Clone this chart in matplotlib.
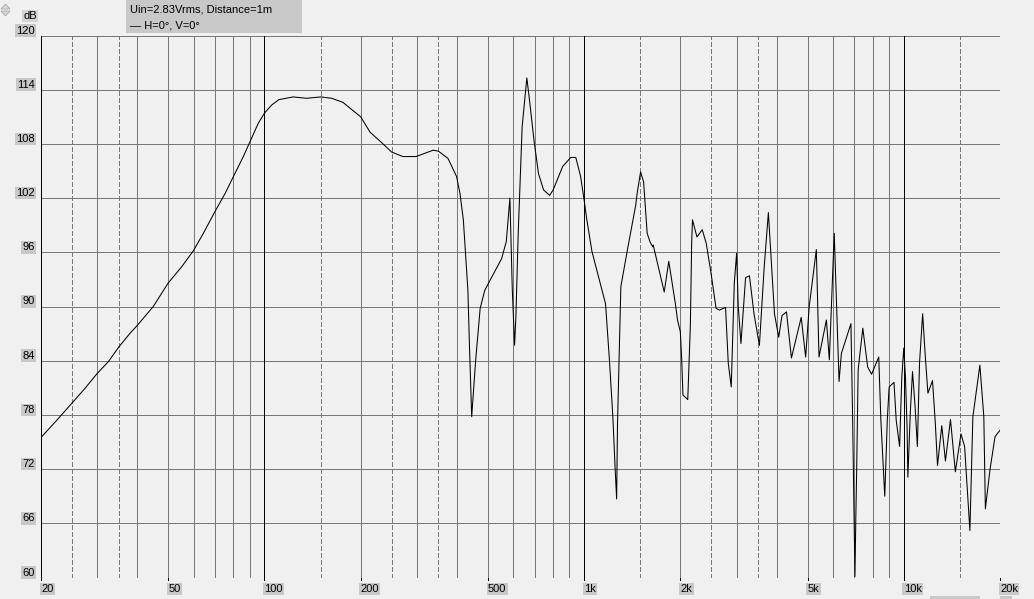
import matplotlib
matplotlib.use("Agg")
import matplotlib.pyplot as plt
import matplotlib.transforms as mtransforms
from matplotlib.patches import Rectangle, Polygon

plt.rcParams['font.family'] = ['Liberation Sans', 'DejaVu Sans']
plt.rcParams['lines.scale_dashes'] = False

# ---- data ----
freq_hz = [20, 22.4, 25, 27.4, 30, 32.5, 35, 37.9, 40, 44.9, 50, 55.1, 60, 64.4, 70, 75.3,
           80, 85.9, 90, 95.7, 100, 105.3, 111, 123, 135.5, 150, 162.3, 176, 200, 214, 230,
           250, 271, 298, 337, 350, 375, 399, 409, 419, 427, 433, 438, 445, 458, 473, 489,
           552, 571, 586, 596, 606, 612, 622, 630, 640, 662, 674, 697, 720, 747, 780, 800,
           857, 908, 942, 975, 1000, 1020, 1058, 1167, 1200, 1230, 1250, 1264, 1272, 1285,
           1303, 1365, 1450, 1465, 1502, 1535, 1575, 1610, 1640, 1645, 1781, 1840, 1930,
           1960, 2000, 2020, 2038, 2110, 2150, 2170, 2183, 2254, 2342, 2410, 2495, 2587,
           2650, 2770, 2825, 2886, 2950, 3000, 3035, 3095, 3200, 3290, 3400, 3535, 3660,
           3771, 3860, 3940, 4063, 4160, 4296, 4452, 4777, 4933, 5060, 5327, 5430, 5727,
           5850, 6060, 6274, 6380, 6835, 6920, 7035, 7080, 7120, 7200, 7445, 7710, 7930,
           8350, 8480, 8720, 8880, 9000, 9320, 9470, 9704, 9860, 10000, 10120, 10240, 10300,
           10480, 10650, 10850, 11030, 11200, 11456, 11660, 11900, 12300, 12550, 12750, 13150,
           13500, 14000, 14500, 15100, 15500, 16100, 16450, 17300, 17800, 18000, 18600,
           19300, 20000]
spl_db = [75.5, 77.4, 79.3, 80.9, 82.6, 83.9, 85.5, 87.0, 87.9, 90.0, 92.6, 94.4, 96.2, 98.1,
          100.5, 102.5, 104.4, 106.6, 108.2, 110.3, 111.4, 112.3, 112.9, 113.2, 113.05, 113.2,
          113.05, 112.6, 111.0, 109.3, 108.3,
          107.1, 106.6, 106.6, 107.3, 107.2, 106.4, 104.4,
          102.5, 99.6, 95.1, 91.8, 85.5, 77.8, 84.1, 89.8, 91.8, 95.3, 97.2, 102.0, 92.0,
          85.7, 89.0, 98.0, 103.3, 109.9, 115.3, 113.0, 108.4, 104.7, 102.9, 102.3, 102.9,
          105.5, 106.5, 106.5, 104.4, 101.8, 99.6, 96.1, 90.3, 84.1, 77.8, 72.2, 68.7, 77.0,
          83.3, 92.2, 96.2, 101.2, 102.5, 104.9, 103.8, 98.1, 97.1, 96.6, 96.8, 91.6, 95.0,
          90.3, 88.5, 87.2, 84.1, 80.2, 79.7, 88.0, 97.0, 99.6, 97.7, 98.5, 97.0, 93.7, 89.8,
          89.6, 89.9, 83.7, 81.1, 92.6, 95.9, 90.0, 85.9, 93.2, 93.4, 89.2, 85.7, 94.4, 100.4,
          94.4, 89.2, 86.6, 89.0, 89.4, 84.3, 88.8, 84.4, 90.0, 96.3, 84.4, 88.5, 84.1, 98.1,
          81.7, 84.8, 88.1, 77.4, 60.1, 66.7, 71.5, 83.0, 87.6, 83.3, 82.5, 84.4, 77.4, 69.0,
          77.4, 81.1, 81.6, 77.4, 74.5, 82.2, 85.4, 82.2, 76.7, 71.1, 78.2, 82.8, 78.9, 74.5,
          83.7, 89.2, 84.8, 80.4, 81.8, 77.1, 72.4, 76.8, 72.9, 77.5, 71.7, 75.9, 74.5, 65.2,
          77.8, 83.5, 77.8, 67.6, 71.9, 75.6, 76.3]

y_ticks = [60, 66, 72, 78, 84, 90, 96, 102, 108, 114, 120]
x_ticks = [20, 50, 100, 200, 500, 1000, 2000, 5000, 10000, 20000]
x_tick_labels = ['20', '50', '100', '200', '500', '1k', '2k', '5k', '10k', '20k']
solid_grid = [30, 40, 50, 60, 70, 80, 90, 200, 300, 400, 500, 600, 700, 800, 900,
              2000, 3000, 4000, 5000, 6000, 7000, 8000, 9000]
dashed_grid = [25, 35, 150, 250, 350, 1500, 2500, 3500, 15000]
major_grid = [100, 1000, 10000]
legend_title = 'Uin=2.83Vrms, Distance=1m'
legend_entry = 'H=0°, V=0°'

BG = '#f0f0f0'
GRID = '#787878'
BOX = '#c8c8c8'
FS = 8

W, H = 1034, 599
fig = plt.figure(figsize=(W / 100, H / 100), dpi=100, facecolor=BG)
L, R, T, B = 41, 1000, 35.5, 577.5
ax = fig.add_axes([L / W, 1 - B / H, (R - L) / W, (B - T) / H])
ax.set_facecolor(BG)
ax.set_xscale('log')
ax.set_xlim(20, 20000)
ax.set_ylim(60, 120)
for s in ax.spines.values():
    s.set_visible(False)
ax.set_xticks([])
ax.set_yticks([])
ax.minorticks_off()

lw = 1.0 * 72 / 100
for y in y_ticks:
    ax.axhline(y, color=GRID, lw=lw, zorder=1, antialiased=False)
for x in solid_grid:
    ax.axvline(x, color=GRID, lw=lw, zorder=1, antialiased=False)
for x in dashed_grid:
    ax.axvline(x, color=GRID, lw=lw, ls=(0, (3.2, 1.6)), zorder=1, antialiased=False)
for x in major_grid + [20, 20000]:
    ax.axvline(x, color='black', lw=lw, zorder=2, antialiased=False)

ax.plot(freq_hz, spl_db, color='black', lw=0.75, zorder=3, antialiased=True)

# tick labels
ytr = mtransforms.blended_transform_factory(fig.transFigure, ax.transData)
xtr = mtransforms.blended_transform_factory(ax.transData, fig.transFigure)
bbox = dict(facecolor=BOX, edgecolor='none', pad=1.0)
for y in y_ticks:
    ax.text(35 / W, y, str(y), transform=ytr, ha='right', va='bottom', fontsize=FS,
            color='black', bbox=bbox, clip_on=False)
for x, lab in zip(x_ticks, x_tick_labels):
    ax.text(x, 1 - 594 / H, lab, transform=xtr, ha='left', va='bottom', fontsize=FS,
            color='black', bbox=bbox, clip_on=False)
    ax.plot([x, x], [1 - 577.5 / H, 1 - 580 / H], transform=xtr, color='black',
            lw=lw, clip_on=False, antialiased=False)

fig.text(23 / W, 1 - 21 / H, 'dB', ha='left', va='bottom', fontsize=FS, color='black',
         bbox=dict(facecolor='#d4d4d4', edgecolor='none', pad=1.0))

# legend box
fig.patches.append(Rectangle((126 / W, 1 - 33 / H), (302 - 126) / W, 33 / H,
                             transform=fig.transFigure, facecolor=BOX, edgecolor='none'))
fig.text(130 / W, 1 - 10 / H, legend_title, ha='left', va='center', fontsize=FS)
fig.text(130 / W, 1 - 25 / H, '— ' + legend_entry, ha='left', va='center', fontsize=FS)

# small scroll glyph at top-left
fig.patches.append(Polygon([(1 / W, 1 - 9 / H), (10 / W, 1 - 9 / H), (5.5 / W, 1 - 4 / H)],
                           closed=True, transform=fig.transFigure, facecolor='#d8d8d8',
                           edgecolor='#a0a0a0', lw=0.5))
fig.patches.append(Polygon([(1 / W, 1 - 11 / H), (10 / W, 1 - 11 / H), (5.5 / W, 1 - 16 / H)],
                           closed=True, transform=fig.transFigure, facecolor='#d8d8d8',
                           edgecolor='#a0a0a0', lw=0.5))

# partial boxes at bottom edge
fig.patches.append(Rectangle((930 / W, 0), 50 / W, 3 / H, transform=fig.transFigure,
                             facecolor=BOX, edgecolor='none'))
fig.patches.append(Rectangle((1000 / W, 0), 12 / W, 3 / H, transform=fig.transFigure,
                             facecolor=BOX, edgecolor='none'))

fig.savefig('out.png', dpi=100, facecolor=BG)
